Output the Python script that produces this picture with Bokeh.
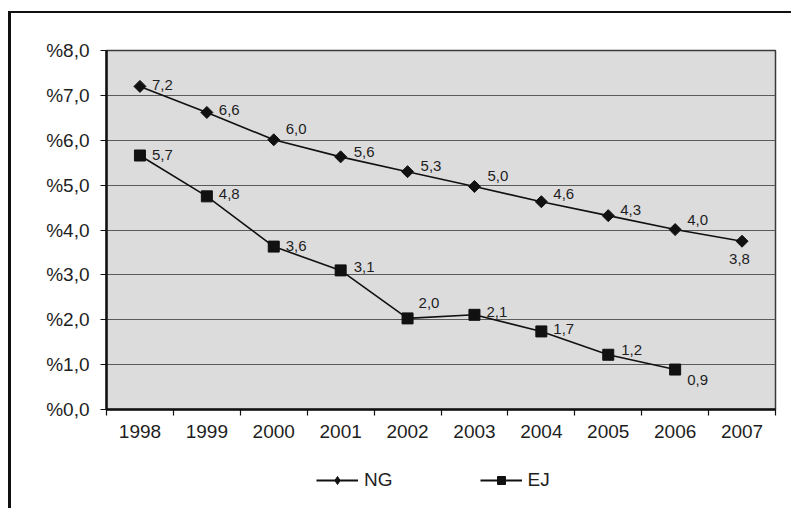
from bokeh.plotting import figure
from bokeh.layouts import column
from bokeh.models import (FixedTicker, Range1d, ColumnDataSource, Legend, LegendItem)
from bokeh.embed import file_html
from bokeh.resources import INLINE
from bokeh.core.properties import value
import numpy as np

# ---- data ----
years = ["1998", "1999", "2000", "2001", "2002", "2003", "2004", "2005", "2006", "2007"]
ng = [7.2, 6.62, 6.01, 5.63, 5.3, 4.97, 4.63, 4.32, 4.01, 3.75]
ng_labels = ["7,2", "6,6", "6,0", "5,6", "5,3", "5,0", "4,6", "4,3", "4,0", "3,8"]
ej = [5.66, 4.75, 3.63, 3.10, 2.03, 2.11, 1.74, 1.22, 0.89]
ej_labels = ["5,7", "4,8", "3,6", "3,1", "2,0", "2,1", "1,7", "1,2", "0,9"]
y_ticks = [0, 1, 2, 3, 4, 5, 6, 7, 8]

# ---- label placement (style) ----
ng_dx = [12, 12, 12, 13, 13, 13, 12, 12, 12, -13]
ng_dy = [-1, -2, -11, -5, -6, -10, -8, -6, -10, 18]
ej_dx = [12, 12, 12, 13, 11, 12, 12, 13, 12]
ej_dy = [-1, -2, -1, -3, -15, -3, -2, -5, 10]

FONT = "Liberation Sans"
TXT = "#1e1e1e"

xc = [i + 0.5 for i in range(len(years))]

p = figure(width=780, height=435, output_backend="svg", toolbar_location=None,
           x_range=Range1d(0, len(years)), y_range=Range1d(0, 8),
           min_border_left=95, min_border_right=16, min_border_top=37, min_border_bottom=39)

p.background_fill_color = "#dcdcdd"
p.border_fill_color = "white"
p.outline_line_color = "#3a3a3a"
p.outline_line_width = 1.5

# x axis: labels at category centres, ticks at boundaries
p.xaxis.ticker = FixedTicker(ticks=xc, minor_ticks=list(range(len(years) + 1)))
p.xaxis.major_label_overrides = {x: y for x, y in zip(xc, years)}
p.xaxis.major_tick_line_color = None
p.xaxis.major_tick_out = 0
p.xaxis.major_tick_in = 0
p.xaxis.minor_tick_out = 6
p.xaxis.minor_tick_in = 0
p.xaxis.minor_tick_line_color = "#111"
p.xaxis.minor_tick_line_width = 1.2
p.xaxis.major_label_standoff = 9
p.xaxis.axis_line_color = "#111"
p.xaxis.axis_line_width = 2.5

# y axis
p.yaxis.ticker = FixedTicker(ticks=y_ticks, minor_ticks=[])
p.yaxis.major_label_overrides = {t: ("%" + f"{t:.1f}".replace(".", ",")) for t in y_ticks}
p.yaxis.major_tick_out = 6
p.yaxis.major_tick_in = 0
p.yaxis.major_tick_line_color = "#111"
p.yaxis.major_tick_line_width = 1.2
p.yaxis.minor_tick_line_color = None
p.yaxis.major_label_standoff = 11
p.yaxis.axis_line_color = "#111"
p.yaxis.axis_line_width = 2.5

for ax in (p.xaxis, p.yaxis):
    ax.major_label_text_font = FONT
    ax.major_label_text_font_size = "19px"
    ax.major_label_text_color = TXT

p.xgrid.grid_line_color = None
p.ygrid.ticker = FixedTicker(ticks=y_ticks[1:-1])
p.ygrid.grid_line_color = "#5a5a5a"
p.ygrid.grid_line_width = 1.2

# series
ng_src = ColumnDataSource(dict(x=xc[:len(ng)], y=ng, t=ng_labels, dx=ng_dx, dy=ng_dy))
ej_src = ColumnDataSource(dict(x=xc[:len(ej)], y=ej, t=ej_labels, dx=ej_dx, dy=ej_dy))

line_kw = dict(line_color="#111", line_width=1.6)
ng_mark_kw = dict(marker="square", size=8.5, angle=np.pi / 4, fill_color="#111", line_color="#111")
ej_mark_kw = dict(marker="square", size=11, fill_color="#111", line_color="#111")

p.line("x", "y", source=ng_src, **line_kw)
p.scatter("x", "y", source=ng_src, **ng_mark_kw)
p.line("x", "y", source=ej_src, **line_kw)
p.scatter("x", "y", source=ej_src, **ej_mark_kw)

for src in (ng_src, ej_src):
    p.text("x", "y", text="t", source=src, x_offset="dx", y_offset="dy",
           text_font=value(FONT), text_font_size="15px", text_color=TXT,
           text_align="left", text_baseline="middle")

# ---- legend strip below ----
lg = figure(width=780, height=60, output_backend="svg", toolbar_location=None,
            x_axis_location=None, y_axis_location=None,
            x_range=Range1d(0, 1), y_range=Range1d(0, 1),
            min_border_left=0, min_border_right=0, min_border_top=0, min_border_bottom=0)
lg.outline_line_color = None
lg.grid.visible = False
lg.background_fill_color = "white"
lg.border_fill_color = "white"
off = dict(x=[-5.0], y=[-5.0])  # dummy points outside the visible range, legend only
leg_line_kw = dict(line_color="#111", line_width=2)
l1 = lg.line(x="x", y="y", source=ColumnDataSource(off), **leg_line_kw)
m1 = lg.scatter(x="x", y="y", source=ColumnDataSource(off), marker="diamond", size=15,
                fill_color="#111", line_color="#111")
l2 = lg.line(x="x", y="y", source=ColumnDataSource(off), **leg_line_kw)
m2 = lg.scatter(x="x", y="y", source=ColumnDataSource(off), **ej_mark_kw)

legend = Legend(items=[LegendItem(label="NG", renderers=[l1, m1]),
                       LegendItem(label="EJ", renderers=[l2, m2])],
                location=(210, 17), orientation="horizontal",
                glyph_width=42, glyph_height=20, label_standoff=6, spacing=87,
                padding=0, margin=0, border_line_color=None, background_fill_alpha=0,
                label_text_font=FONT, label_text_font_size="19px", label_text_color=TXT)
lg.add_layout(legend, "center")

layout = column(p, lg, spacing=0)
layout.styles = {"border-left": "3px solid #111", "border-top": "2px solid #111",
                 "margin-top": "11px", "margin-left": "8px"}

open("out.html", "w").write(file_html(layout, INLINE))
